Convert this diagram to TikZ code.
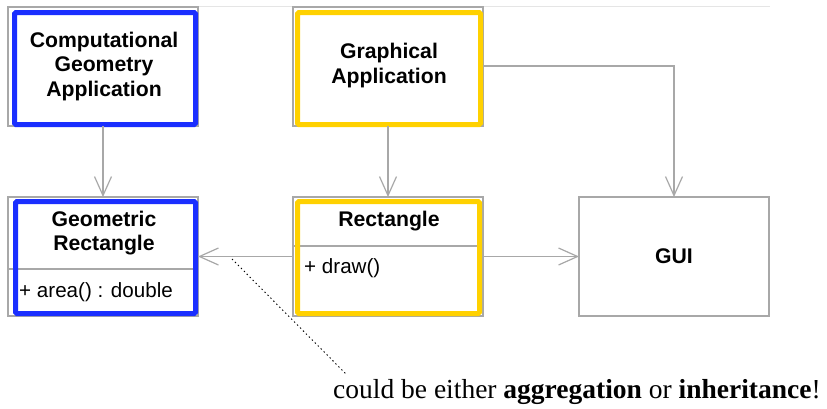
\documentclass[tikz,border=0pt]{standalone}
\usepackage{fontspec}
\setmainfont{Liberation Serif}
\newfontfamily\umlfont{Liberation Sans}
\usetikzlibrary{arrows.meta}
\definecolor{umlgray}{HTML}{A8A8A8}
\definecolor{hlblue}{HTML}{1A2EFF}
\definecolor{hlyellow}{HTML}{FFD100}

\begin{document}
\begin{tikzpicture}[x=1pt,y=-1pt,
  classbox/.style={draw=umlgray, line width=1.2pt, minimum width=190pt,
    minimum height=119pt, inner sep=0pt, outer sep=0pt},
  classname/.style={font=\umlfont\bfseries\fontsize{21.2}{24.5}\selectfont,
    align=center, inner sep=0pt},
  member/.style={font=\umlfont\fontsize{20.6}{24}\selectfont, anchor=west, inner sep=0pt},
  divider/.style={draw=umlgray, line width=1.2pt},
  conn/.style={draw=umlgray, line width=1.2pt,
    -{Straight Barb[length=19pt,width=17pt,line width=1.2pt]}},
  markblue/.style={draw=hlblue, line width=5pt, rounded corners=1.5pt},
  markyellow/.style={draw=hlyellow, line width=5pt, rounded corners=1.5pt},
  notelink/.style={draw=black, line width=0.9pt, dash pattern=on 1.4pt off 2.8pt}
]
\useasboundingbox (0,0) rectangle (827,408);
\fill[white] (0,0) rectangle (827,408);

% faint frame line along the top
\draw[umlgray!30, line width=0.8pt] (8,6) -- (770,6);

% class boxes
\node[classbox] (comp)  at (103,66.5)  {};
\node[classbox] (graph) at (388,66.5)  {};
\node[classbox] (geo)   at (103,256.5) {};
\node[classbox] (rect)  at (388,256.5) {};
\node[classbox] (gui)   at (674,256.5) {};

% compartments
\draw[divider] (geo.west |- 0,269) -- (geo.east |- 0,269);
\draw[divider] (rect.west |- 0,246) -- (rect.east |- 0,246);

% highlight frames
\draw[markblue]   (14.5,12.5)  rectangle (195.5,124.5);
\draw[markblue]   (15.5,201.5) rectangle (195.5,313.5);
\draw[markyellow] (297.5,12.5) rectangle (480.5,124.5);
\draw[markyellow] (297.5,201.5) rectangle (479.5,313.5);

% names and members
\node[classname] (compname)  at (104,66.5) {Computational\\Geometry\\Application};
\node[classname] (graphname) at (389,65.5) {Graphical\\Application};
\node[classname] (geoname)   at (104,233)  {Geometric\\Rectangle};
\node[classname] (rectname)  at (389,221.5) {Rectangle};
\node[classname] (guiname)   at (674,256.5) {GUI};
\node[member] (geoop)  at (19,292)  {+ area() : double};
\node[member] (rectop) at (304,268) {+ draw()};

% connectors
\draw[conn] (comp.south) -- (geo.north);
\draw[conn] (graph.south) -- (rect.north);
\draw[conn] (graph.east |- 0,66) -| (gui.north);
\draw[conn] (rect.west) -- (geo.east);
\draw[conn] (rect.east) -- (gui.west);

% note
\coordinate (linkstart) at (232,259);
\coordinate (linkend) at (347,375);
\draw[notelink] (linkstart) -- (linkend);
\node[anchor=base west, inner sep=0pt, font=\fontsize{27.5}{30}\selectfont]
  (note) at (333,398) {could be either \textbf{aggregation} or \textbf{inheritance}!};
\end{tikzpicture}
\end{document}
